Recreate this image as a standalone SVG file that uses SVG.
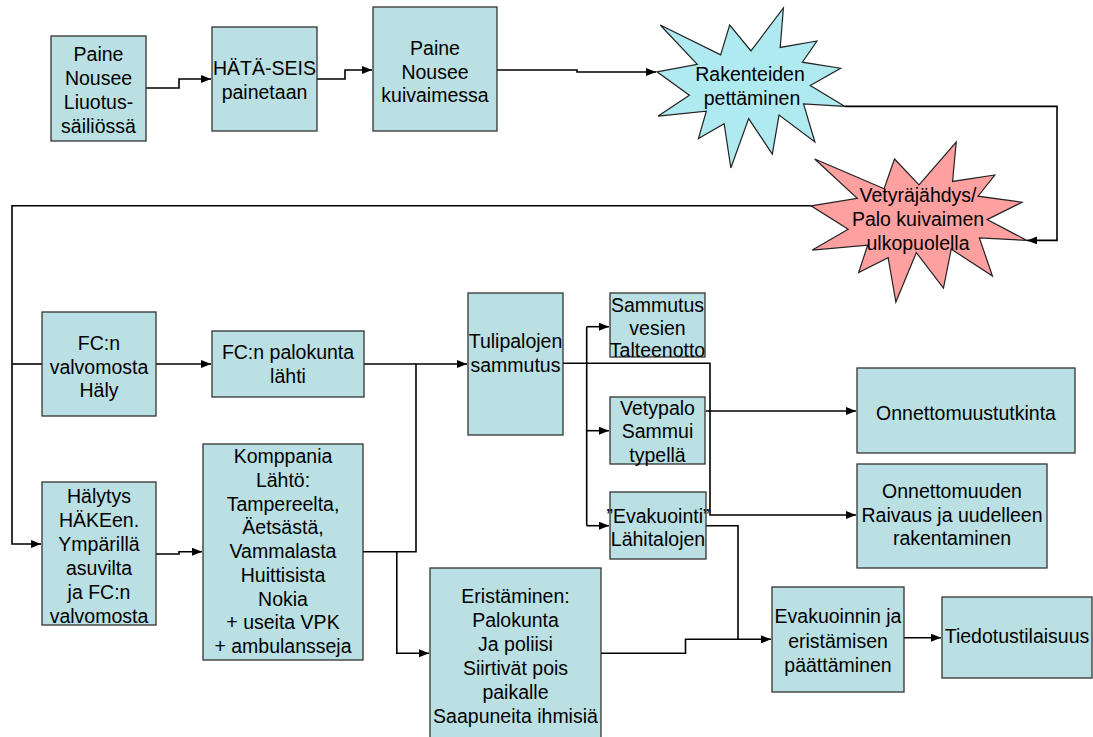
<svg xmlns="http://www.w3.org/2000/svg" width="1093" height="737" viewBox="0 0 1093 737">
<style>
.box{fill:#BBE0E3;stroke:#333;stroke-width:1.3}
.t{font-family:"Liberation Sans",Arial,sans-serif;font-size:19.5px;fill:#000;text-anchor:middle}
.c{fill:none;stroke:#000;stroke-width:1.6}
.star{stroke:#222;stroke-width:1.2}
</style>
<defs>
<marker id="ah" markerUnits="userSpaceOnUse" markerWidth="11" markerHeight="9" refX="10" refY="4" orient="auto">
<path d="M0,0 L10,4 L0,8 Z" fill="#000"/>
</marker>
</defs>
<rect width="1093" height="737" fill="#fff"/>
<g id="connectors">
<path class="c" d="M146,88 H179 V79 H211" marker-end="url(#ah)"/>
<path class="c" d="M317,79 H345 V70 H372" marker-end="url(#ah)"/>
<path class="c" d="M497,70 H577 V72 H656" marker-end="url(#ah)"/>
<path class="c" d="M845,106.4 H1057 V240.4 H1027" marker-end="url(#ah)"/>
<path class="c" d="M811,205.8 H12 V544 H41" marker-end="url(#ah)"/>
<path class="c" d="M12,364 H42"/>
<path class="c" d="M156,364 H211" marker-end="url(#ah)"/>
<path class="c" d="M156,554 H179 V551.7 H202" marker-end="url(#ah)"/>
<path class="c" d="M364,364 H416"/>
<path class="c" d="M363,551.7 H416 V364 H467" marker-end="url(#ah)"/>
<path class="c" d="M396.8,551.7 V653.3 H429" marker-end="url(#ah)"/>
<path class="c" d="M563,363.3 H710 V515 H856" marker-end="url(#ah)"/>
<path class="c" d="M586.7,326.7 V525.7"/>
<path class="c" d="M586.7,326.7 H609" marker-end="url(#ah)"/>
<path class="c" d="M586.7,430.7 H609" marker-end="url(#ah)"/>
<path class="c" d="M586.7,525.7 H609" marker-end="url(#ah)"/>
<path class="c" d="M705.7,411 H856" marker-end="url(#ah)"/>
<path class="c" d="M705.7,525.7 H738 V639.3"/>
<path class="c" d="M601,653.3 H685.5 V639.3 H771" marker-end="url(#ah)"/>
<path class="c" d="M903.6,637.7 H941" marker-end="url(#ah)"/>
</g>
<g id="n1"><rect class="box" x="51" y="36" width="95" height="105"/>
<text class="t" x="98.5" y="61">Paine</text><text class="t" x="98.5" y="85">Nousee</text><text class="t" x="98.5" y="109">Liuotus-</text><text class="t" x="98.5" y="133">säiliössä</text></g>
<g id="n2"><rect class="box" x="212" y="27" width="105" height="104"/>
<text class="t" x="264.5" y="75">HÄTÄ-SEIS</text><text class="t" x="264.5" y="99">painetaan</text></g>
<g id="n3"><rect class="box" x="373" y="7" width="124" height="124"/>
<text class="t" x="435" y="55">Paine</text><text class="t" x="435" y="78.5">Nousee</text><text class="t" x="435" y="102">kuivaimessa</text></g>
<g id="n4"><path class="star" fill="#AEEAF0" d="M751,50.96 L783.39,8 L780.2,47.44 L816.97,41.01 L802.37,62.19 L840.62,68.27 L810.25,85.59 L845,106.44 L803.54,103.87 L814.93,142.04 L779.03,115.09 L772.3,154.2 L748.67,118.63 L730.85,168 L724.15,123.76 L698.45,138.5 L706.32,111.24 L658.18,116.05 L689.4,95.22 L657,71.81 L697.27,64.42 L660.22,25 L720.64,54.81 L729.69,25 Z"/>
<text class="t" x="750" y="81">Rakenteiden</text><text class="t" x="752" y="104.5">pettäminen</text></g>
<g id="n5"><path class="star" fill="#FFA0A0" d="M919,184.96 L956.22,142 L952.55,181.44 L994.8,175.01 L978.02,196.19 L1021.97,202.27 L987.07,219.59 L1027,240.44 L979.37,237.87 L992.45,276.04 L951.2,249.09 L943.47,288.2 L916.32,252.63 L895.85,302 L888.15,257.76 L858.62,272.5 L867.67,245.24 L812.35,250.05 L848.22,229.22 L811,205.81 L857.27,198.42 L814.7,159 L884.12,188.81 L894.52,159 Z"/>
<text class="t" x="918" y="202">Vetyräjähdys/</text><text class="t" x="918" y="226">Palo kuivaimen</text><text class="t" x="918" y="249.5">ulkopuolella</text></g>
<g id="n6"><rect class="box" x="42" y="312" width="114" height="104"/>
<text class="t" x="99" y="350">FC:n</text><text class="t" x="99" y="373.5">valvomosta</text><text class="t" x="99" y="397">Häly</text></g>
<g id="n7"><rect class="box" x="212" y="331" width="152" height="66"/>
<text class="t" x="288" y="359">FC:n palokunta</text><text class="t" x="288" y="383">lähti</text></g>
<g id="n8"><rect class="box" x="42" y="482" width="114" height="143"/>
<text class="t" x="99" y="502.7">Hälytys</text><text class="t" x="99" y="526.7">HÄKEen.</text><text class="t" x="99" y="550.7">Ympärillä</text><text class="t" x="99" y="574.7">asuvilta</text><text class="t" x="99" y="598.7">ja FC:n</text><text class="t" x="99" y="622.7">valvomosta</text></g>
<g id="n9"><rect class="box" x="203" y="444" width="160" height="216"/>
<text class="t" x="283" y="463.3">Komppania</text><text class="t" x="283" y="487">Lähtö:</text><text class="t" x="283" y="510.7">Tampereelta,</text><text class="t" x="283" y="534.4">Äetsästä,</text><text class="t" x="283" y="558">Vammalasta</text><text class="t" x="283" y="581.8">Huittisista</text><text class="t" x="283" y="605.5">Nokia</text><text class="t" x="283" y="629.2">+ useita VPK</text><text class="t" x="283" y="652.8">+ ambulansseja</text></g>
<g id="n10"><rect class="box" x="468" y="293" width="95" height="142"/>
<text class="t" x="515.5" y="348.3">Tulipalojen</text><text class="t" x="515.5" y="371.7">sammutus</text></g>
<g id="n11"><rect class="box" x="610" y="293" width="95" height="64"/>
<text class="t" x="657.5" y="311.7">Sammutus</text><text class="t" x="657.5" y="335">vesien</text><text class="t" x="657.5" y="357">Talteenotto</text></g>
<g id="n12"><rect class="box" x="610" y="397" width="95" height="67"/>
<text class="t" x="657.5" y="415">Vetypalo</text><text class="t" x="657.5" y="438.3">Sammui</text><text class="t" x="657.5" y="461.7">typellä</text></g>
<g id="n13"><rect class="box" x="610" y="492" width="96" height="67"/>
<text class="t" x="658" y="522.7">”Evakuointi”</text><text class="t" x="658" y="546">Lähitalojen</text></g>
<g id="n14"><rect class="box" x="857" y="368" width="218" height="85"/>
<text class="t" x="966" y="420">Onnettomuustutkinta</text></g>
<g id="n15"><rect class="box" x="857" y="464" width="190" height="104"/>
<text class="t" x="952" y="498.3">Onnettomuuden</text><text class="t" x="952" y="521.7">Raivaus ja uudelleen</text><text class="t" x="952" y="545">rakentaminen</text></g>
<g id="n16"><rect class="box" x="430" y="568" width="171" height="180"/>
<text class="t" x="515.5" y="603.3">Eristäminen:</text><text class="t" x="515.5" y="627.2">Palokunta</text><text class="t" x="515.5" y="651">Ja poliisi</text><text class="t" x="515.5" y="675">Siirtivät pois</text><text class="t" x="515.5" y="698.8">paikalle</text><text class="t" x="515.5" y="722.7">Saapuneita ihmisiä</text></g>
<g id="n17"><rect class="box" x="772" y="587" width="132" height="105"/>
<text class="t" x="838" y="623.3">Evakuoinnin ja</text><text class="t" x="838" y="648">eristämisen</text><text class="t" x="838" y="671.7">päättäminen</text></g>
<g id="n18"><rect class="box" x="942" y="597" width="150" height="81"/>
<text class="t" x="1017" y="642.7">Tiedotustilaisuus</text></g>
</svg>
